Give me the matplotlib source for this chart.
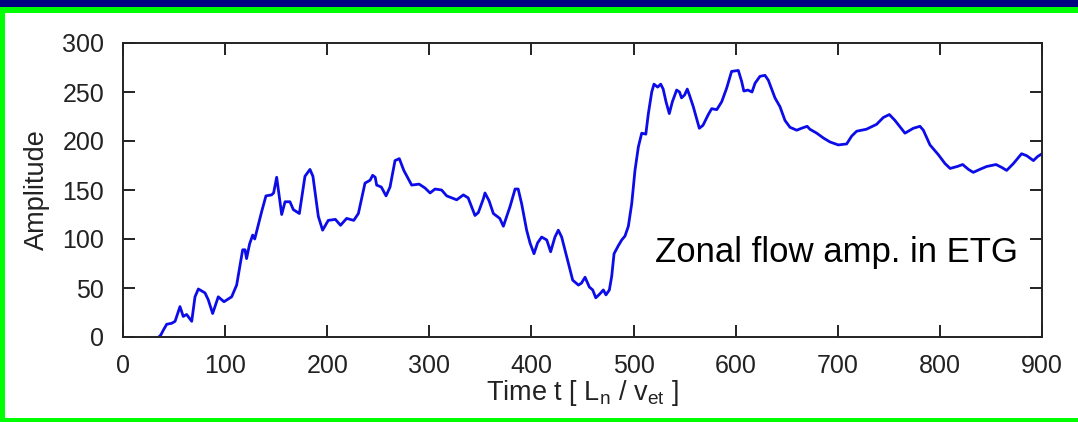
import matplotlib
matplotlib.use("Agg")
import matplotlib.pyplot as plt
from matplotlib.patches import Rectangle

plt.rcParams['font.family'] = ['Liberation Sans', 'DejaVu Sans']
plt.rcParams['mathtext.fontset'] = 'custom'
plt.rcParams['mathtext.rm'] = 'Liberation Sans'
plt.rcParams['mathtext.it'] = 'Liberation Sans'

# Zonal flow amplitude versus normalized time
time = [35, 37, 39.5, 42.8, 47.7, 51, 55.8, 59, 62.3, 67.3, 70.5, 73.8, 80.3, 83.5,
        87.8, 93.3, 98.9, 106.4, 111.3, 117.2, 119.5, 121, 124, 127, 129, 135.8, 140,
        145.5, 147.5, 150.5, 155.4, 158.7, 163.5, 166.8, 172.7, 178.2, 183.1, 186,
        191.3, 195.5, 201, 208, 213, 219, 226, 230.5, 237, 242, 244.5, 247, 248.4,
        253, 257.6, 261.5, 266.4, 270.6, 275, 282.7, 290, 295.8, 300.7, 305.6, 312,
        317, 326.8, 333.3, 338, 344.7, 348, 352.9, 354.5, 358.5, 362.7, 369, 372.5,
        379, 384, 387, 390.4, 395.3, 398.6, 402.5, 406, 410, 415, 418.8, 423, 426.3,
        429.6, 434.5, 436, 440.4, 446, 449, 452.5, 456.7, 460, 463, 467, 470.4, 473,
        476.3, 478.6, 480.9, 485, 488.4, 491.6, 494.9, 498.2, 501.4, 504.7, 508, 512,
        514.5, 517.8, 520, 523.6, 526.6, 529, 531.8, 535, 538, 542.2, 545, 547, 550,
        552.6, 555, 558.5, 564.4, 568, 573.2, 576.5, 581.5, 586.3, 591.2, 596, 602.6,
        605.8, 608, 612, 616, 619, 623.8, 628.7, 632, 638.5, 643.4, 648.3, 653.2,
        659.8, 664.5, 670, 672.7, 679.4, 686, 692.4, 700.5, 708.7, 713.6, 718.5, 728,
        738, 744.6, 750.5, 756, 765.8, 774, 780.5, 783.8, 790.3, 798.5, 805, 810, 817,
        822.3, 828, 832.7, 839, 845.8, 855, 860.6, 865.4, 872, 880, 885, 891.6,
        895.5, 900]
amplitude = [0, 2, 7, 13, 14, 16, 31, 21, 23, 16, 41, 49, 45, 38,
             24, 41, 36, 41, 53, 89, 89, 80, 95, 104, 100, 128, 144,
             145, 147, 163, 125, 138, 138, 130, 126, 164, 171, 164,
             123, 109, 119, 120, 114, 121, 119, 126, 157, 160, 165, 163, 155,
             153, 144, 153, 180, 182, 170, 155, 156, 152, 147, 151, 150,
             144, 140, 145, 142, 124, 127, 141, 147, 139, 126, 121, 113,
             133, 151, 151, 136, 109, 96, 85, 96, 102, 99, 87, 102, 109,
             102, 82, 76, 58, 53, 55, 61, 51, 48, 40, 44, 48, 43,
             48, 62, 85, 93, 99, 103, 113, 136, 170, 194, 208, 207,
             228, 250, 258, 255, 258, 253, 240, 228, 240, 252, 250, 244, 247,
             253, 246, 235, 213, 216, 227, 233, 232, 240, 254, 271, 272,
             261, 251, 252, 250, 259, 266, 267, 262, 244, 235, 221, 214,
             211, 213, 215, 212, 208, 203, 199, 196, 197, 205, 210, 212,
             217, 224, 227, 221, 208, 213, 215, 211, 196, 186, 177, 172, 174,
             176, 171, 168, 171, 174, 176, 173, 170, 177, 187, 185, 180,
             184, 187]

x_ticks = [0, 100, 200, 300, 400, 500, 600, 700, 800, 900]
y_ticks = [0, 50, 100, 150, 200, 250, 300]

W, H = 1078, 422
fig = plt.figure(figsize=(W / 100, H / 100), dpi=100)
fig.patch.set_facecolor('#00ff00')

# white panel inside a green frame, with a navy strip on top
fig.patches.append(Rectangle((5 / W, 4 / H), (W - 5) / W, (H - 13 - 4) / H,
                             transform=fig.transFigure, facecolor='white',
                             edgecolor='none', zorder=-10))
fig.patches.append(Rectangle((0, (H - 7) / H), 1, 7 / H,
                             transform=fig.transFigure, facecolor='#000080',
                             edgecolor='none', zorder=-10))

ax = fig.add_axes([123 / W, (H - 337) / H, (1042 - 123) / W, (337 - 43) / H])
ax.set_facecolor('white')
ax.plot(time, amplitude, color='#0c0ce8', lw=2.0, solid_joinstyle='round')

ax.set_xlim(0, 900)
ax.set_ylim(0, 300)
ax.set_xticks(x_ticks)
ax.set_yticks(y_ticks)
ax.tick_params(direction='in', length=8.5, width=1.4, top=True, right=True,
               labelsize=18, colors='#222222', pad=13.5)
ax.tick_params(axis='x', pad=12)
for sp in ax.spines.values():
    sp.set_linewidth(1.4)
    sp.set_color('#222222')

ax.set_xlabel(r'Time t [ L$_\mathregular{n}$ / v$_\mathregular{et}$ ]',
              fontsize=19.5, color='#222222', labelpad=0)
ax.set_ylabel('Amplitude', fontsize=19.5, color='#222222', labelpad=9)

ax.text(655 / W, (H - 262) / H, 'Zonal flow amp. in ETG', transform=fig.transFigure,
        fontsize=25, color='black', ha='left', va='baseline')

fig.savefig('out.png', dpi=100, facecolor=fig.get_facecolor())
